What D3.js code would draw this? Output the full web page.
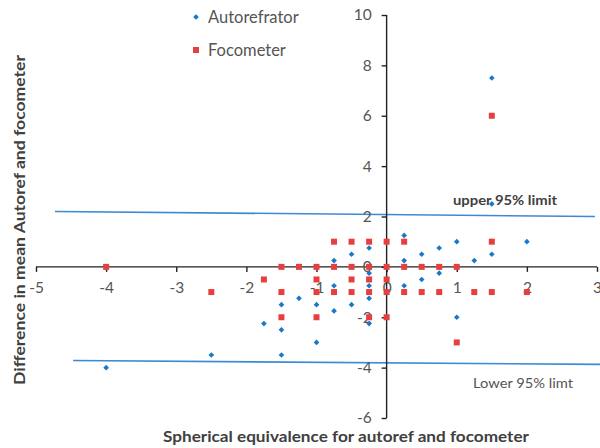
<!DOCTYPE html>
<html><head><meta charset="utf-8">
<script src="https://cdn.jsdelivr.net/npm/d3@7"></script>
<style>body{margin:0;background:#fff}svg{display:block}</style>
</head><body>
<svg id="c" width="600" height="448"></svg>
<script>
// Data
const autoX = [-4,-2.5,-1.75,-1.5,-1.5,-1.5,-1.25,-1,-1,-0.75,-0.75,-0.75,-0.5,-0.5,-0.25,-0.25,-0.25,-0.25,-0.25,0.25,0.25,0.25,0.5,0.5,0.75,0.75,1,1,1.25,1.5,1.5,1.5,2];
const autoY = [-4,-3.5,-2.25,-1.5,-2.5,-3.5,-1.25,-1.5,-3,0.25,-0.75,-1.75,0.5,-1.5,0.75,-0.25,-0.75,-1.25,-2.25,1.25,0.25,-0.75,0.5,-0.5,0.75,-0.25,1,-2,0.25,0.5,2.5,7.5,1];
const focoX = [-4,-2.5,-1.75,-1.5,-1.5,-1.5,-1.25,-1,-1,-1,-1,-0.75,-0.75,-0.75,-0.5,-0.5,-0.5,-0.5,-0.25,-0.25,-0.25,-0.25,-0.25,0,0,0,0,0,0.25,0.25,0.25,0.5,0.5,0.75,0.75,1,1,1.25,1.5,1.5,1.5,2];
const focoY = [0,-1,-0.5,0,-1,-2,0,0,-0.5,-1,-2,1,0,-1,1,0,-0.5,-1,1,0,-0.5,-1,-2,1,0,-0.5,-1,-2,1,0,-1,0,-1,0,-1,0,-3,-1,1,-1,6,-1];
const xTicks = [-5,-4,-3,-2,-1,0,1,2,3];
const yTicks = [-6,-4,-2,0,2,4,6,8,10];
const upperLimitX = [-4.73, 2.97];
const upperLimitY = [2.2, 2.0];
const lowerLimitX = [-4.47, 3.05];
const lowerLimitY = [-3.72, -3.87];
const seriesNames = ["Autorefrator", "Focometer"];

const svg = d3.select("#c");
const x = d3.scaleLinear().domain([-5,3]).range([36,597]);
const y = d3.scaleLinear().domain([-6,10]).range([418,15]);
const font = "Lato, 'Open Sans', sans-serif";
const blue = "#1a78c8", red = "#e5403f", lineBlue = "#3b8ad6";
const fmt = d => String(d);

// limit lines
const line = d3.line().x(d=>x(d[0])).y(d=>y(d[1]));
svg.append("path").attr("d", line(d3.zip(upperLimitX, upperLimitY)))
  .attr("stroke", lineBlue).attr("stroke-width", 1.6).attr("fill","none");
svg.append("path").attr("d", line(d3.zip(lowerLimitX, lowerLimitY)))
  .attr("stroke", lineBlue).attr("stroke-width", 1.6).attr("fill","none");

// x axis (at y=0)
const xAxis = svg.append("g").attr("transform", `translate(0,${y(0)})`)
  .call(d3.axisBottom(x).tickValues(xTicks).tickSize(5).tickPadding(10).tickFormat(fmt));
xAxis.select(".domain").attr("stroke","#222").attr("stroke-width",1.4).attr("d", `M${x(-5)},0H${x(3)}`);
xAxis.selectAll(".tick line").attr("stroke","#222").attr("stroke-width",1.4);
xAxis.selectAll("text").attr("font-family", font).attr("font-size", 15.5).attr("fill","#555");

// y axis (at x=0)
const yAxis = svg.append("g").attr("transform", `translate(${x(0)},0)`)
  .call(d3.axisLeft(y).tickValues(yTicks).tickSize(5).tickPadding(10).tickFormat(fmt));
yAxis.select(".domain").attr("stroke","#222").attr("stroke-width",1.4).attr("d", `M0,${y(10)}V${y(-6)}`);
yAxis.selectAll(".tick line").attr("stroke","#222").attr("stroke-width",1.4);
yAxis.selectAll("text").attr("font-family", font).attr("font-size", 15.5).attr("fill","#555");

// points
svg.append("g").selectAll("rect").data(d3.zip(autoX, autoY)).join("rect")
  .attr("x", -2).attr("y", -2).attr("width", 4).attr("height", 4)
  .attr("transform", d=>`translate(${x(d[0])},${y(d[1])}) rotate(45)`)
  .attr("fill", blue);
svg.append("g").selectAll("rect").data(d3.zip(focoX, focoY)).join("rect")
  .attr("x", d=>x(d[0])-3).attr("y", d=>y(d[1])-3)
  .attr("width", 6).attr("height", 6).attr("fill", red);

// legend
const leg = svg.append("g");
leg.append("rect").attr("x",-2).attr("y",-2).attr("width",4).attr("height",4)
  .attr("transform","translate(196,17) rotate(45)").attr("fill", blue);
leg.append("rect").attr("x",193).attr("y",47).attr("width",6).attr("height",6).attr("fill",red);
leg.append("text").attr("x",208).attr("y",17).attr("dy","0.35em").text(seriesNames[0])
  .attr("font-family", font).attr("font-size",16.5).attr("fill","#555");
leg.append("text").attr("x",208).attr("y",50).attr("dy","0.35em").text(seriesNames[1])
  .attr("font-family", font).attr("font-size",16.5).attr("fill","#555");

// limit labels
svg.append("text").attr("x",453).attr("y",200).attr("dy","0.35em").text("upper 95% limit")
  .attr("font-family", font).attr("font-weight","bold").attr("font-size",13).attr("fill","#404040")
  .attr("textLength",104).attr("lengthAdjust","spacingAndGlyphs");
svg.append("text").attr("x",473).attr("y",383).attr("dy","0.35em").text("Lower 95% limt")
  .attr("font-family", font).attr("font-size",14).attr("fill","#555")
  .attr("textLength",100).attr("lengthAdjust","spacingAndGlyphs");

// axis titles
svg.append("text").attr("x",346).attr("y",437).attr("dy","0.35em").attr("text-anchor","middle")
  .text("Spherical equivalence for autoref and focometer")
  .attr("font-family", font).attr("font-weight","bold").attr("font-size",14.5).attr("fill","#404040")
  .attr("textLength",366).attr("lengthAdjust","spacingAndGlyphs");
svg.append("text").attr("transform","translate(20,220) rotate(-90)").attr("dy","0.35em").attr("text-anchor","middle")
  .text("Difference in mean Autoref and focometer")
  .attr("font-family", font).attr("font-weight","bold").attr("font-size",14.5).attr("fill","#404040")
  .attr("textLength",330).attr("lengthAdjust","spacingAndGlyphs");
</script>
</body></html>
